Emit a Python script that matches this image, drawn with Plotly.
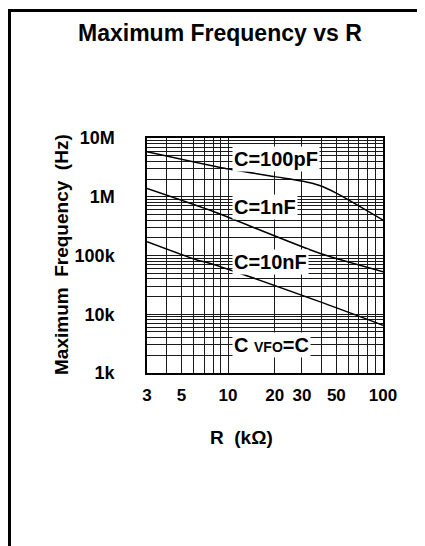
import plotly.graph_objects as go
import math

# ---- data ----
r_100pF = [3, 9.5, 20, 30, 39, 50, 100]
f_100pF = [5.85e6, 3.05e6, 2.2e6, 1.85e6, 1.55e6, 1.15e6, 4.0e5]

r_1nF = [3, 7.6, 39, 100]
f_1nF = [1.39e6, 5.94e5, 1.09e5, 5.3e4]

r_10nF = [3, 6.3, 7.6, 39, 100]
f_10nF = [1.72e5, 8.4e4, 7.4e4, 1.64e4, 6.5e3]

x_tickvals = [3, 4, 5, 6, 7, 8, 9, 10, 20, 30, 40, 50, 60, 70, 80, 90, 100]
x_ticktext = ["3", "", "5", "", "", "", "", "10", "20", "30", "", "50", "", "", "", "", "100"]

y_tickvals = [m * 10 ** e for e in range(3, 7) for m in range(1, 10)] + [1e7]
y_labels = {1e3: "1k", 1e4: "10k", 1e5: "100k", 1e6: "1M", 1e7: "10M"}
y_ticktext = [y_labels.get(v, "") for v in y_tickvals]

curve_labels = ["C=100pF", "C=1nF", "C=10nF", "C <span style='font-size:14px'>VFO</span>=C"]

# ---- layout geometry (page pixels; the page body has an 8px margin) ----
OFF = 8
PAGE_W, PAGE_H = 425, 546
W, H = PAGE_W - OFF, PAGE_H - OFF
L, R, T, B = 147, 383, 138, 373


def px(x):
    return (x - L) / (R - L)


def py(y):
    return (B - y) / (B - T)


FONT = "Liberation Sans, Arial, sans-serif"

fig = go.Figure()
for xs, ys in [(r_100pF, f_100pF), (r_1nF, f_1nF), (r_10nF, f_10nF)]:
    fig.add_trace(go.Scatter(x=xs, y=ys, mode="lines",
                             line=dict(color="black", width=1.5, shape="spline", smoothing=0.6),
                             showlegend=False, hoverinfo="skip"))

axis_common = dict(showline=True, linecolor="black", linewidth=1.5, mirror=True,
                   showgrid=True, gridcolor="#1a1a1a", gridwidth=1,
                   zeroline=False, ticks="outside", ticklen=0,
                   tickmode="array")

fig.update_xaxes(type="log", range=[math.log10(3), 2],
                 tickvals=x_tickvals, ticktext=x_ticktext,
                 ticklabelstandoff=6,
                 tickfont=dict(family=FONT, size=17, color="black", weight="bold"),
                 **axis_common)
fig.update_yaxes(type="log", range=[3, 7],
                 tickvals=y_tickvals, ticktext=y_ticktext,
                 ticklabelstandoff=27,
                 tickfont=dict(family=FONT, size=18, color="black", weight="bold"),
                 **axis_common)

annots = []
annots.append(dict(text="Maximum Frequency vs R", x=px(220), y=py(33),
                   xanchor="center", yanchor="middle",
                   xref="paper", yref="paper", showarrow=False,
                   font=dict(family=FONT, size=23, color="black", weight="bold")))
annots.append(dict(text="Maximum  Frequency  (Hz)", x=px(61), y=py(255), textangle=-90,
                   xanchor="center", yanchor="middle",
                   xref="paper", yref="paper", showarrow=False,
                   font=dict(family=FONT, size=19, color="black", weight="bold")))
annots.append(dict(text="R  (kΩ)", x=px(241), y=py(437),
                   xanchor="center", yanchor="middle",
                   xref="paper", yref="paper", showarrow=False,
                   font=dict(family=FONT, size=19, color="black", weight="bold")))
for lab, yy in zip(curve_labels, [159, 207, 262, 345]):
    annots.append(dict(text=lab, x=px(232), y=py(yy), xanchor="left", yanchor="middle",
                       xref="paper", yref="paper", showarrow=False,
                       bgcolor="white", borderpad=1,
                       font=dict(family=FONT, size=20, color="black", weight="bold")))

shapes = [
    dict(type="line", xref="paper", yref="paper", x0=px(8), x1=px(425), y0=py(10.5), y1=py(10.5),
         line=dict(color="black", width=3)),
    dict(type="line", xref="paper", yref="paper", x0=px(9.5), x1=px(9.5), y0=py(9), y1=py(546),
         line=dict(color="black", width=3)),
]

fig.update_layout(width=W, height=H,
                  margin=dict(l=L - OFF, r=PAGE_W - R, t=T - OFF, b=PAGE_H - B),
                  paper_bgcolor="white", plot_bgcolor="white",
                  annotations=annots, shapes=shapes, showlegend=False)

fig.write_html("out.html")
